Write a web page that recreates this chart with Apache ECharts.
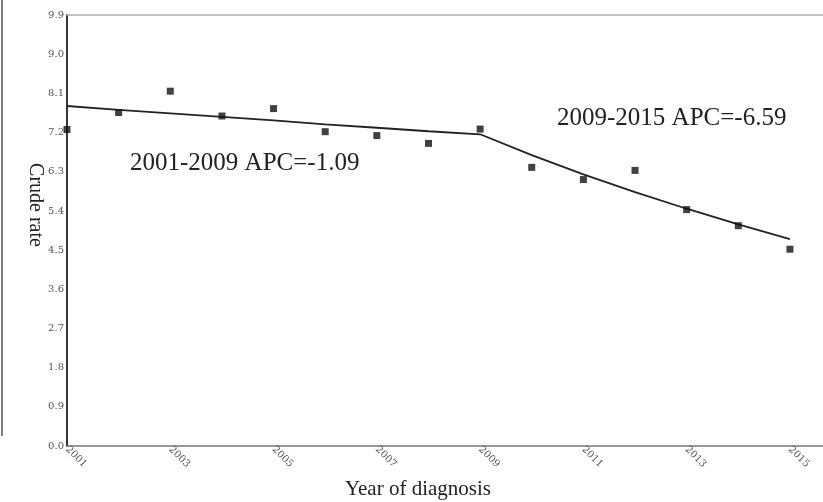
<!DOCTYPE html>
<html>
<head>
<meta charset="utf-8">
<script src="https://cdn.jsdelivr.net/npm/echarts@6/dist/echarts.min.js"></script>
<style>
html,body{margin:0;padding:0;background:#fff;}
#chart{width:823px;height:502px;}
</style>
</head>
<body>
<div id="chart"></div>
<script>
var years = [2001, 2002, 2003, 2004, 2005, 2006, 2007, 2008, 2009, 2010, 2011, 2012, 2013, 2014, 2015];
var observed = [7.27, 7.66, 8.15, 7.58, 7.75, 7.22, 7.13, 6.95, 7.28, 6.40, 6.12, 6.33, 5.43, 5.06, 4.52];
var fitted = [7.81, 7.72, 7.64, 7.56, 7.48, 7.39, 7.31, 7.23, 7.16, 6.68, 6.24, 5.83, 5.45, 5.09, 4.75];
var yTicks = [0.0, 0.9, 1.8, 2.7, 3.6, 4.5, 5.4, 6.3, 7.2, 8.1, 9.0, 9.9];
var xTickYears = [2001, 2003, 2005, 2007, 2009, 2011, 2013, 2015];
var annotations = ['2001-2009 APC=-1.09', '2009-2015 APC=-6.59'];
var xName = 'Year of diagnosis';
var yName = 'Crude rate';

var chart = echarts.init(document.getElementById('chart'), null, {renderer: 'canvas'});

function pairs(vals) {
  return years.map(function (y, i) { return [y, vals[i]]; });
}

var serif = '"Liberation Serif", "DejaVu Serif", serif';
var tickFont = '"DejaVu Serif", serif';

chart.setOption({
  animation: false,
  backgroundColor: '#fff',
  grid: {left: 67, right: 0, top: 15, bottom: 56, containLabel: false},
  xAxis: [{
    type: 'value',
    min: 2001,
    max: 2015.64,
    interval: 1,
    axisLine: {show: true, onZero: false, lineStyle: {color: '#777', width: 1.5}},
    axisTick: {show: false},
    splitLine: {show: false},
    axisLabel: {
      rotate: -45,
      margin: 2,
      fontSize: 10,
      color: '#555',
      fontFamily: tickFont,
      showMaxLabel: false,
      formatter: function (v) { return xTickYears.indexOf(v) >= 0 ? String(v) : ''; }
    }
  }, {
    type: 'value',
    position: 'top',
    min: 2001,
    max: 2015.64,
    interval: 1,
    axisLine: {show: true, onZero: false, lineStyle: {color: '#b0b0b0', width: 1.5}},
    axisTick: {show: false},
    axisLabel: {show: false},
    splitLine: {show: false}
  }],
  yAxis: {
    type: 'value',
    min: 0,
    max: 9.9,
    interval: 0.9,
    axisLine: {show: true, lineStyle: {color: '#333', width: 2}},
    axisTick: {show: false},
    splitLine: {show: false},
    axisLabel: {
      margin: 3,
      fontSize: 10,
      color: '#555',
      fontFamily: tickFont,
      formatter: function (v) {
        var best = yTicks.reduce(function (a, b) { return Math.abs(b - v) < Math.abs(a - v) ? b : a; });
        return best.toFixed(1);
      }
    }
  },
  series: [{
    type: 'line',
    data: pairs(fitted),
    showSymbol: false,
    symbol: 'none',
    lineStyle: {color: '#222', width: 1.8},
    clip: false,
    z: 2
  }, {
    type: 'scatter',
    data: pairs(observed),
    symbol: 'rect',
    symbolSize: 7,
    itemStyle: {color: '#111'},
    clip: false,
    z: 3
  }],
  graphic: [
    {type: 'line', shape: {x1: 2, y1: 0, x2: 2, y2: 436}, style: {stroke: '#555', lineWidth: 1.5}},
    {type: 'text', x: 130, y: 163, style: {text: annotations[0], font: '25px ' + serif, fill: '#222', textVerticalAlign: 'middle'}},
    {type: 'text', x: 557, y: 118, style: {text: annotations[1], font: '25px ' + serif, fill: '#222', textVerticalAlign: 'middle'}},
    {type: 'text', x: 418, y: 489, style: {text: xName, font: '21px ' + serif, fill: '#222', textAlign: 'center', textVerticalAlign: 'middle'}},
    {type: 'text', x: 35, y: 205, rotation: -Math.PI / 2, style: {text: yName, font: '20px ' + serif, fill: '#222', textAlign: 'center', textVerticalAlign: 'middle'}}
  ]
});
</script>
</body>
</html>
